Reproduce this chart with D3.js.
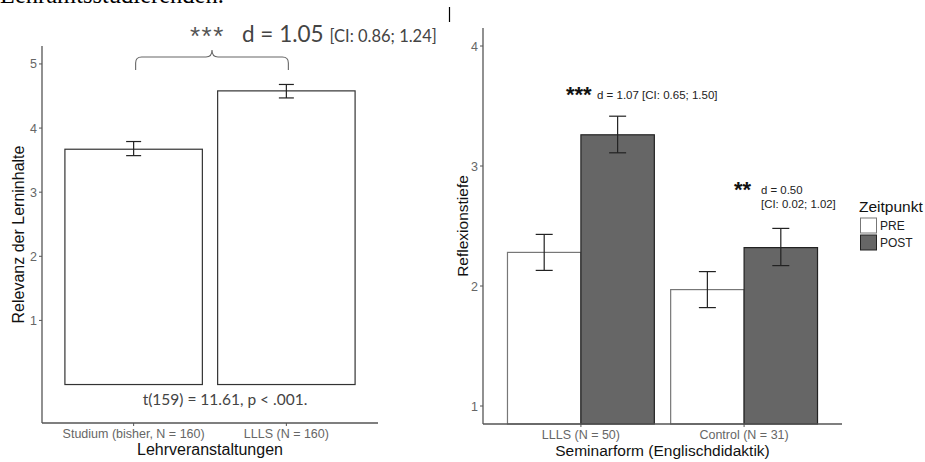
<!DOCTYPE html>
<html>
<head>
<meta charset="utf-8">
<script src="https://cdn.jsdelivr.net/npm/d3@7"></script>
<style>
  body { margin: 0; background: #fff; }
  svg { display: block; }
</style>
</head>
<body>
<svg width="925" height="462"></svg>
<script>
// left chart data
var leftCategories = ["Studium (bisher, N = 160)", "LLLS (N = 160)"];
var leftMeans = [3.67, 4.58];
var leftLower = [3.57, 4.47];
var leftUpper = [3.79, 4.68];
var leftTicks = [1, 2, 3, 4, 5];

// right chart data
var rightGroups = ["LLLS (N = 50)", "Control (N = 31)"];
var timepoints = ["PRE", "POST"];
var preMeans = [2.28, 1.97];
var preLower = [2.13, 1.82];
var preUpper = [2.43, 2.12];
var postMeans = [3.26, 2.32];
var postLower = [3.11, 2.17];
var postUpper = [3.415, 2.48];
var rightTicks = [1, 2, 3, 4];

var svg = d3.select("svg");
var axisColor = "#555",
    tickText = "#666",
    sans = "'Liberation Sans', Arial, sans-serif";

// cut-off line of text above the figure
svg.append("text")
    .attr("x", 0).attr("y", 3)
    .attr("font-family", "'Liberation Serif', serif")
    .attr("font-size", 24.5)
    .text("Lehramtsstudierenden.");
svg.append("line")
    .attr("x1", 449.5).attr("x2", 449.5)
    .attr("y1", 7).attr("y2", 22)
    .attr("stroke", "#000").attr("stroke-width", 1.2);

function drawAxes(g, x, y, ticks, xTitle, yTitle, yTitleX, titleSize) {
    var x0 = x.range()[0], x1 = x.range()[1];
    var yb = y.range()[0], yt = y.range()[1];
    g.append("line").attr("x1", x0).attr("x2", x0).attr("y1", yt).attr("y2", yb)
        .attr("stroke", axisColor).attr("stroke-width", 1.3);
    g.append("line").attr("x1", x0).attr("x2", x1).attr("y1", yb).attr("y2", yb)
        .attr("stroke", axisColor).attr("stroke-width", 1.3);
    ticks.forEach(function(t) {
        g.append("line").attr("x1", x0 - 3).attr("x2", x0).attr("y1", y(t)).attr("y2", y(t))
            .attr("stroke", axisColor);
        g.append("text").attr("x", x0 - 5).attr("y", y(t) + 4.5)
            .attr("text-anchor", "end").attr("fill", tickText)
            .attr("font-family", sans).attr("font-size", 12.5).text(t);
    });
    x.domain().forEach(function(c) {
        var cx = x(c) + x.bandwidth() / 2;
        g.append("line").attr("x1", cx).attr("x2", cx).attr("y1", yb).attr("y2", yb + 3)
            .attr("stroke", axisColor);
        g.append("text").attr("x", cx).attr("y", yb + 15)
            .attr("text-anchor", "middle").attr("fill", tickText)
            .attr("font-family", sans).attr("font-size", 12.5).text(c);
    });
    g.append("text").attr("x", (x0 + x1) / 2).attr("y", yb + 32)
        .attr("text-anchor", "middle").attr("fill", "#111")
        .attr("font-family", sans).attr("font-size", titleSize).text(xTitle);
    g.append("text")
        .attr("transform", "translate(" + yTitleX + "," + (yt + yb) / 2 + ") rotate(-90)")
        .attr("text-anchor", "middle").attr("fill", "#111")
        .attr("font-family", sans).attr("font-size", titleSize).text(yTitle);
}

function errorBar(g, cx, lo, hi, y, w) {
    g.append("line").attr("x1", cx).attr("x2", cx).attr("y1", y(lo)).attr("y2", y(hi))
        .attr("stroke", "#222").attr("stroke-width", 1.2);
    [lo, hi].forEach(function(v) {
        g.append("line").attr("x1", cx - w / 2).attr("x2", cx + w / 2).attr("y1", y(v)).attr("y2", y(v))
            .attr("stroke", "#222").attr("stroke-width", 1.2);
    });
}

// ---------- left chart ----------
var gl = svg.append("g");
var xl = d3.scaleBand().domain(leftCategories).range([42, 378])
    .paddingInner(0.1).paddingOuter(0.15);
var yl = d3.scaleLinear().domain([-0.6, 5.28]).range([423, 46]);

gl.selectAll("rect.bar").data(leftMeans).enter().append("rect")
    .attr("x", function(d, i) { return xl(leftCategories[i]); })
    .attr("width", xl.bandwidth())
    .attr("y", function(d) { return yl(d); })
    .attr("height", function(d) { return yl(0) - yl(d); })
    .attr("fill", "#fff").attr("stroke", "#333").attr("stroke-width", 1.2);

leftMeans.forEach(function(d, i) {
    errorBar(gl, xl(leftCategories[i]) + xl.bandwidth() / 2, leftLower[i], leftUpper[i], yl, 15);
});

drawAxes(gl, xl, yl, leftTicks, "Lehrveranstaltungen", "Relevanz der Lerninhalte", 24, 16);

gl.append("text").attr("x", 225).attr("y", 405)
    .attr("text-anchor", "middle").attr("fill", "#444")
    .attr("font-family", "Lato, sans-serif").attr("font-size", 15.5)
    .text("t(159) = 11.61, p < .001.");

// curly brace between the bars
var bx0 = xl(leftCategories[0]) + xl.bandwidth() / 2 + 2,
    bx1 = xl(leftCategories[1]) + xl.bandwidth() / 2 + 2,
    bm = (bx0 + bx1) / 2;
var r = 6;
gl.append("path")
    .attr("d", "M" + bx0 + ",70 L" + bx0 + "," + (57 + r) + " Q" + bx0 + ",57 " + (bx0 + r) + ",57" +
        " L" + (bm - r) + ",57 Q" + bm + ",57 " + bm + ",50" +
        " Q" + bm + ",57 " + (bm + r) + ",57 L" + (bx1 - r) + ",57 Q" + bx1 + ",57 " + bx1 + "," + (57 + r) +
        " L" + bx1 + ",70")
    .attr("fill", "none").attr("stroke", "#666").attr("stroke-width", 1.1);

gl.append("text").attr("x", 190).attr("y", 45)
    .attr("fill", "#555").attr("font-family", sans).attr("font-size", 26)
    .attr("letter-spacing", 1.5)
    .text("***");
var dtext = gl.append("text").attr("x", 242).attr("y", 42)
    .attr("fill", "#444").attr("font-family", "Lato, sans-serif");
dtext.append("tspan").attr("font-size", 22.5).text("d = 1.05 ");
dtext.append("tspan").attr("font-size", 16.5).text("[CI: 0.86; 1.24]");

// ---------- right chart ----------
var gr = svg.append("g");
var xr = d3.scaleBand().domain(rightGroups).range([483, 842])
    .paddingInner(0.1).paddingOuter(0.15);
var xs = d3.scaleBand().domain(timepoints).range([0, xr.bandwidth()]);
var yr = d3.scaleLinear().domain([0.85, 4.15]).range([424, 28]);
var fills = { PRE: "#fff", POST: "#666" };
var strokes = { PRE: "#777", POST: "#222" };

var series = [
    { key: "PRE", mean: preMeans, lo: preLower, hi: preUpper },
    { key: "POST", mean: postMeans, lo: postLower, hi: postUpper }
];

series.forEach(function(s) {
    rightGroups.forEach(function(grp, i) {
        var x = xr(grp) + xs(s.key);
        gr.append("rect")
            .attr("x", x).attr("width", xs.bandwidth())
            .attr("y", yr(s.mean[i]))
            .attr("height", yr.range()[0] - yr(s.mean[i]))
            .attr("fill", fills[s.key]).attr("stroke", strokes[s.key]).attr("stroke-width", 1.2);
    });
});
series.forEach(function(s) {
    rightGroups.forEach(function(grp, i) {
        errorBar(gr, xr(grp) + xs(s.key) + xs.bandwidth() / 2, s.lo[i], s.hi[i], yr, 17);
    });
});

drawAxes(gr, xr, yr, rightTicks, "Seminarform (Englischdidaktik)", "Reflexionstiefe", 468, 15.5);

// significance annotations
gr.append("text").attr("x", 566).attr("y", 102)
    .attr("fill", "#111").attr("font-family", sans).attr("font-size", 22).attr("font-weight", "bold")
    .text("***");
gr.append("text").attr("x", 597).attr("y", 99)
    .attr("fill", "#222").attr("font-family", sans).attr("font-size", 11.5)
    .text("d = 1.07 [CI: 0.65; 1.50]");
gr.append("text").attr("x", 734).attr("y", 197)
    .attr("fill", "#111").attr("font-family", sans).attr("font-size", 22).attr("font-weight", "bold")
    .text("**");
gr.append("text").attr("x", 761).attr("y", 194)
    .attr("fill", "#222").attr("font-family", sans).attr("font-size", 11.4)
    .text("d = 0.50");
gr.append("text").attr("x", 761).attr("y", 207.5)
    .attr("fill", "#222").attr("font-family", sans).attr("font-size", 11.4)
    .text("[CI: 0.02; 1.02]");

// legend
var lg = svg.append("g");
lg.append("text").attr("x", 859).attr("y", 212)
    .attr("fill", "#111").attr("font-family", sans).attr("font-size", 15.5).text("Zeitpunkt");
timepoints.forEach(function(t, i) {
    var y0 = 218 + i * 17;
    lg.append("rect").attr("x", 860.5).attr("y", y0).attr("width", 16).attr("height", 15)
        .attr("fill", fills[t]).attr("stroke", strokes[t]).attr("stroke-width", 1);
    lg.append("text").attr("x", 880).attr("y", y0 + 11.5)
        .attr("fill", "#222").attr("font-family", sans).attr("font-size", 12).text(t);
});
</script>
</body>
</html>
